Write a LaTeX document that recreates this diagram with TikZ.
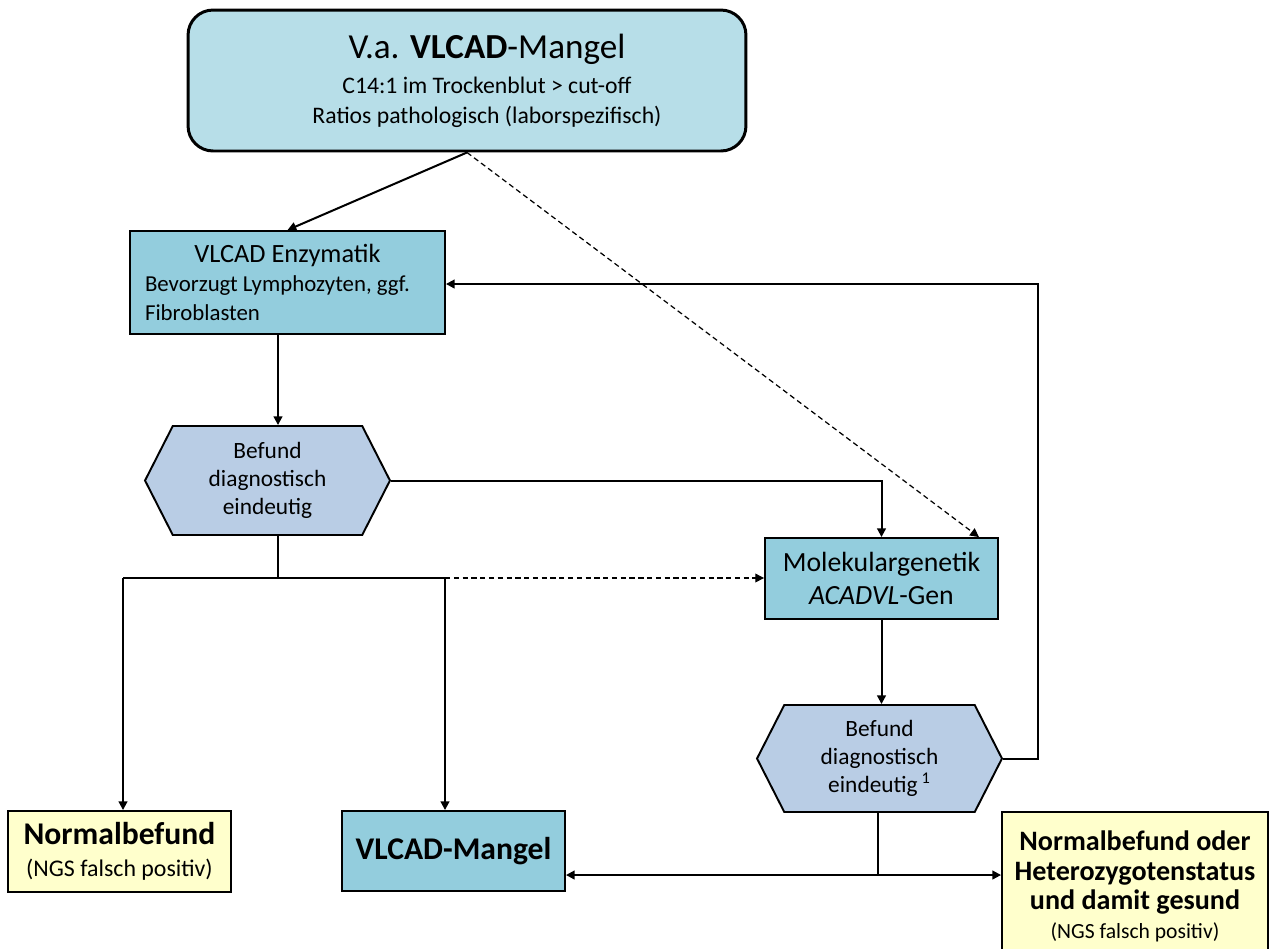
\documentclass[tikz,border=0pt]{standalone}
\usepackage{fontspec}
\setmainfont{Carlito}
\usetikzlibrary{arrows.meta,shapes.symbols}
\definecolor{topblue}{HTML}{B7DEE8}
\definecolor{boxblue}{HTML}{93CDDD}
\definecolor{hexblue}{HTML}{B9CDE5}
\definecolor{resyellow}{HTML}{FFFFCC}

\begin{document}
\begin{tikzpicture}[x=0.02cm,y=-0.02cm,
  box/.style={draw,line width=1.1pt,fill=boxblue,inner sep=0pt,align=center},
  hexa/.style={draw,line width=1.1pt,fill=hexblue,signal,signal to=east and west,signal pointer angle=126,inner sep=0pt,align=center,font=\fontsize{13.3}{16}\selectfont},
  result/.style={draw,line width=1.1pt,fill=resyellow,inner sep=0pt,align=center},
  arr/.style={line width=1.15pt,-{Triangle[length=5pt,width=5pt]}},
  line/.style={line width=1.15pt},
  darr/.style={line width=0.7pt,dash pattern=on 3pt off 2pt,-{Triangle[length=5pt,width=5pt]}}]
\useasboundingbox (0,0) rectangle (1270,948);
\clip (0,0) rectangle (1270,948);

\node[box,fill=topblue,line width=1.7pt,rounded corners=0.5cm,minimum width=11.16cm,minimum height=2.82cm,font=\fontsize{13.5}{17}\selectfont] (verdacht) at (467,80.5)
  {\hspace*{0.8cm}{\fontsize{20}{24}\selectfont V.a. \textbf{VLCAD}-Mangel}\\[3pt]
   \hspace*{0.8cm}C14:1 im Trockenblut > cut-off\\
   \hspace*{0.8cm}Ratios pathologisch (laborspezifisch)};
\node[box,minimum width=6.3cm,minimum height=2.06cm,align=left,font=\fontsize{13}{16.5}\selectfont] (enz) at (287.5,282.5)
  {\makebox[5.7cm]{\fontsize{15}{18}\selectfont VLCAD Enzymatik}\\ Bevorzugt Lymphozyten, ggf.\\ Fibroblasten};
\node[hexa,minimum width=4.9cm,minimum height=2.18cm] (hex1) at (267.5,480.5) {Befund\\diagnostisch\\eindeutig};
\node[box,minimum width=4.66cm,minimum height=1.62cm,font=\fontsize{15.8}{19}\selectfont] (mol) at (881.5,578.5)
  {Molekulargenetik\\\textit{ACADVL}-Gen};
\node[hexa,minimum width=4.9cm,minimum height=2.14cm] (hex2) at (879.5,758.5) {Befund\\diagnostisch\\eindeutig\,\textsuperscript{1}};
\node[result,minimum width=4.46cm,minimum height=1.62cm,font=\fontsize{13.6}{18}\selectfont] (normal) at (119.5,851.5)
  {{\fontsize{18}{20}\selectfont\bfseries Normalbefund}\\(NGS falsch positiv)};
\node[box,minimum width=4.46cm,minimum height=1.6cm,font=\fontsize{18}{21}\selectfont\bfseries] (mangel) at (453.5,851) {VLCAD-Mangel};
\node[result,minimum width=5.32cm,minimum height=2.98cm,font=\fontsize{16}{16.6}\selectfont\bfseries] (hetero) at (1135,886.5)
  {Normalbefund oder\\Heterozygotenstatus\\und damit gesund\\{\fontsize{12.3}{14}\selectfont\mdseries (NGS falsch positiv)}};

\coordinate (split) at (278,578);
\coordinate (left) at (123,578);
\coordinate (right) at (445,578);
\coordinate (back) at (1038,284);
\coordinate (split2) at (878,875);

\draw[arr] (verdacht.south) -- (enz.north);
\draw[darr] (verdacht.south) -- ([xshift=-0.4cm]mol.north east);
\draw[arr] (split |- enz.south) -- (split |- hex1.north);
\draw[arr] (hex1.east) -| (mol.north);
\draw[line] (split |- hex1.south) -- (split);
\draw[line] (left) -- (right);
\draw[arr] (left) -- (left |- normal.north);
\draw[arr] (right) -- (right |- mangel.north);
\draw[darr] (right) -- (right -| mol.west);
\draw[arr] (mol.south) -- (mol.south |- hex2.north);
\draw[arr] (hex2.east) -| (back) -- (back -| enz.east);
\draw[line] (split2 |- hex2.south) -- (split2);
\draw[arr] (split2) -- (split2 -| mangel.east);
\draw[arr] (split2) -- (split2 -| hetero.west);
\end{tikzpicture}
\end{document}
